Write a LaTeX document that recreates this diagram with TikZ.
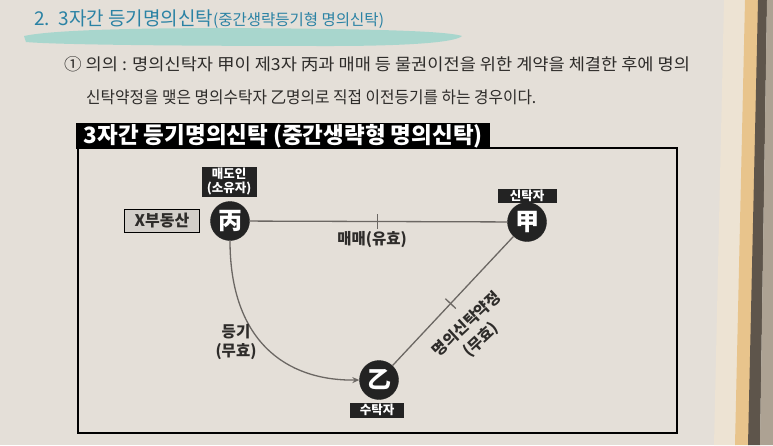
\documentclass[tikz,border=0pt]{standalone}
\usepackage{fontspec}
\newfontfamily\kr{Noto Sans CJK KR}
\usetikzlibrary{arrows.meta}
\definecolor{page}{HTML}{E4DFD8}
\definecolor{cream}{HTML}{EDE3D3}
\definecolor{edgeor}{HTML}{E8C48C}
\definecolor{edgedk}{HTML}{5E554B}
\definecolor{edgegr}{HTML}{ADA293}
\definecolor{headc}{HTML}{2A82A4}
\definecolor{band}{HTML}{9ED5CC}
\definecolor{bodyc}{HTML}{2E2C2A}
\definecolor{linec}{HTML}{6B6763}
\definecolor{dark}{HTML}{232323}
\definecolor{xbox}{HTML}{D3CFCA}
\tikzset{
  party/.style={circle, fill=dark, draw=dark, minimum size=39pt, inner sep=0pt,
    text=white, font=\kr\bfseries\fontsize{24}{24}\selectfont},
  tag/.style={fill=dark, text=white, inner sep=1.5pt, align=center,
    font=\kr\bfseries\fontsize{12.5}{14}\selectfont},
  lbl/.style={text=bodyc, align=center, inner sep=1pt,
    font=\kr\bfseries\fontsize{15.5}{19}\selectfont},
  conn/.style={draw=linec, line width=1.3pt},
  tickmark/.style={inner sep=0pt, minimum height=13pt, minimum width=0pt, draw=none},
}
\begin{document}
\begin{tikzpicture}[x=1pt,y=-1pt]
\useasboundingbox (0,0) rectangle (773,445);
% page
\fill[page] (0,0) rectangle (773,445);
\fill[cream] (724,0) -- (746,0) -- (736,445) -- (714,445) -- cycle;
\fill[edgeor] (745,0) -- (759,0) -- (749,445) -- (735,445) -- cycle;
\fill[edgedk] (758,0) -- (767,0) -- (760,445) -- (748,445) -- cycle;
\fill[edgegr] (767,0) -- (773,0) -- (773,445) -- (760,445) -- cycle;
% heading band
\fill[band, opacity=0.85] (24,36) .. controls (60,28) and (200,27) .. (330,29)
  .. controls (400,30) and (450,32) .. (462,36)
  .. controls (455,43) and (400,46) .. (330,46)
  .. controls (200,46) and (60,45) .. (26,42) -- cycle;
% heading
\node[anchor=base west, inner sep=0pt, text=headc, font=\kr\fontsize{19}{19}\selectfont] (head) at (34,25)
  {2.\ \ 3자간 등기명의신탁{\fontsize{15.5}{15.5}\selectfont(중간생략등기형 명의신탁)}};
% body text
\node[anchor=base west, inner sep=0pt, text=bodyc, font=\kr\fontsize{16.6}{16.6}\selectfont] (line1) at (64,70)
  {\scalebox{1.06}[1]{① 의의 : 명의신탁자 甲이 제3자 丙과 매매 등 물권이전을 위한 계약을 체결한 후에 명의}};
\node[anchor=base west, inner sep=0pt, text=bodyc, font=\kr\fontsize{16.6}{16.6}\selectfont] (line2) at (86,103)
  {\scalebox{0.948}[1]{신탁약정을 맺은 명의수탁자 乙명의로 직접 이전등기를 하는 경우이다.}};
% diagram frame
\draw[line width=1.5pt, draw=black] (78,148) rectangle (677,433);
\node[fill=black, anchor=south west, minimum width=414pt, minimum height=26pt, inner sep=0pt,
  text=white, font=\kr\bfseries\fontsize{22.5}{22.5}\selectfont] (title) at (76,149)
  {3자간 등기명의신탁 (중간생략형 명의신탁)};
% parties
\node[party] (bing) at (230,221) {丙};
\node[party] (gap) at (527,222) {甲};
\node[party] (yi) at (379,380) {乙};
\node[tag, minimum width=55pt, minimum height=30pt] (seller) at (229,182) {매도인\\(소유자)};
\node[tag, minimum width=59pt, minimum height=14pt] (truster) at (527,196) {신탁자};
\node[tag, minimum width=54pt, minimum height=15pt] (trustee) at (377,410) {수탁자};
\node[draw=black, line width=1.4pt, fill=xbox, minimum width=75pt, minimum height=23pt, inner sep=0pt,
  text=bodyc, font=\kr\bfseries\fontsize{16}{16}\selectfont] (estate) at (162,221) {X부동산};
% connectors
\draw[conn] (bing) -- (gap) node[pos=0.495, tickmark] (t1) {};
\draw[conn] (t1.north) -- (t1.south);
\draw[conn] (yi) -- (gap) node[pos=0.48, sloped, tickmark] (t2) {};
\draw[conn] (t2.north) -- (t2.south);
\draw[conn, -{Stealth[length=7pt,width=6pt]}] (bing.south) .. controls (230,340) and (285,381) .. (yi.west);
% labels
\node[lbl] (sale) at (372,240) {매매(유효)};
\node[lbl] (reg) at (236,342) {등기\\(무효)};
\node[lbl, rotate=43, font=\kr\bfseries\fontsize{15.5}{21}\selectfont] (agree) at (474,332) {명의신탁약정\\(무효)};
\end{tikzpicture}
\end{document}
